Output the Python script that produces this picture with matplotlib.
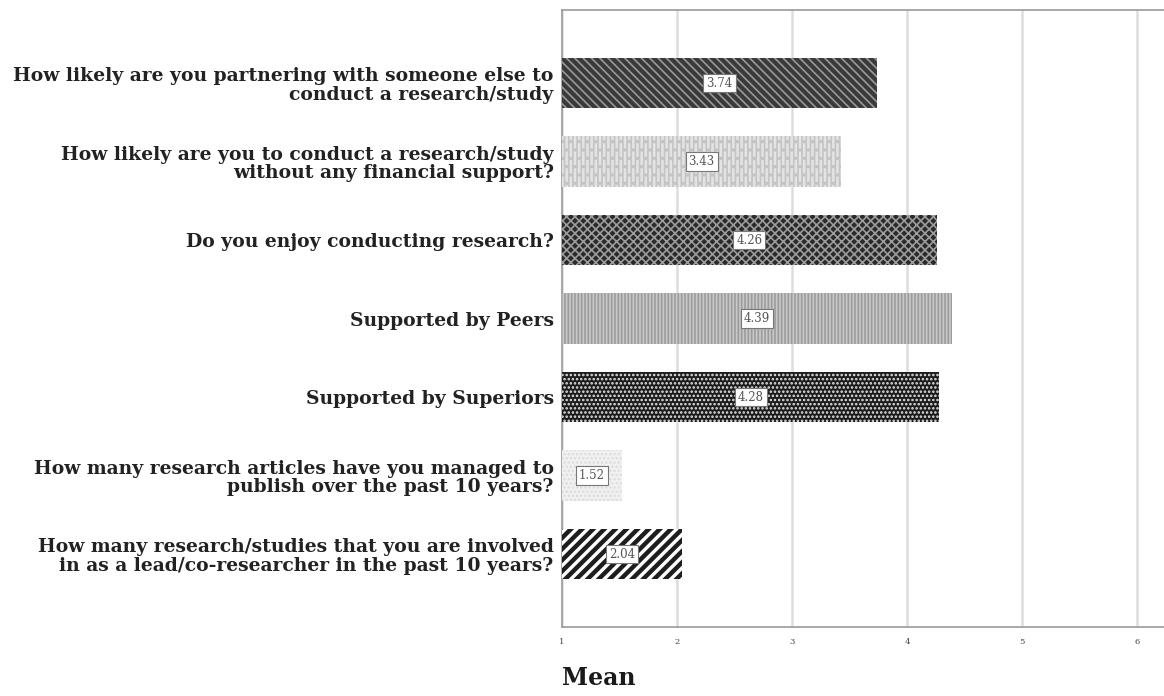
import matplotlib
matplotlib.use("Agg")
import matplotlib.pyplot as plt

# survey items (top to bottom) and their mean scores
questions = [
    "How likely are you partnering with someone else to\nconduct a research/study",
    "How likely are you to conduct a research/study\nwithout any financial support?",
    "Do you enjoy conducting research?",
    "Supported by Peers",
    "Supported by Superiors",
    "How many research articles have you managed to\npublish over the past 10 years?",
    "How many research/studies that you are involved\nin as a lead/co-researcher in the past 10 years?",
]
means = [3.74, 3.43, 4.26, 4.39, 4.28, 1.52, 2.04]
mean_labels = ["3.74", "3.43", "4.26", "4.39", "4.28", "1.52", "2.04"]
x_ticks = [1, 2, 3, 4, 5, 6]

# fill patterns, one per bar
faces = ["#3a3a3a", "#e4e4e4", "#2a2a2a", "#c8c8c8", "#1c1c1c", "#f1f1f1", "#ffffff"]
hatch_cols = ["#9a9a9a", "#c4c4c4", "#9c9c9c", "#9c9c9c", "#e6e6e6", "#dcdcdc", "#1e1e1e"]
hatches = ["\\\\\\\\", "||||..", "xxxx", "|||||", "....", "....", "///"]
hatch_lw = [1.2, 1.2, 1.2, 1.2, 1.2, 1.2, 3.2]

plt.rcParams["font.family"] = "DejaVu Serif"
plt.rcParams["hatch.linewidth"] = 1.2

fig = plt.figure(figsize=(11.64, 6.96), dpi=100)
ax = fig.add_axes([0.4828, 0.0991, 0.5434, 0.8865])

base = x_ticks[0]
ypos = list(range(len(questions)))
for i in ypos:
    bars = ax.barh(i, means[i] - base, left=base, height=0.64, color=faces[i],
                   edgecolor=hatch_cols[i], hatch=hatches[i], linewidth=0, zorder=3)
    for b in bars:
        if hasattr(b, "set_hatch_linewidth"):
            b.set_hatch_linewidth(hatch_lw[i])
    ax.text(base + (means[i] - base) / 2, i, mean_labels[i], ha="center", va="center",
            fontsize=8.5, color="#555555", zorder=4,
            bbox=dict(boxstyle="square,pad=0.25", facecolor="white",
                      edgecolor="#777777", linewidth=0.8))

ax.set_xlim(1, 6.5)
ax.set_ylim(6.93, -0.93)
ax.set_yticks(ypos)
ax.set_yticklabels(questions, fontsize=13.5, fontweight="bold", color="#222222",
                   linespacing=1.06)
ax.set_xticks(x_ticks)
ax.set_xticklabels([str(t) for t in x_ticks], fontsize=6, color="#444444")
ax.tick_params(axis="y", length=0, pad=6)
ax.tick_params(axis="x", length=0, pad=8)

ax.grid(axis="x", color="#dddddd", linewidth=1.8, zorder=0)
for side in ["left", "bottom", "top", "right"]:
    ax.spines[side].set_color("#9a9a9a")
    ax.spines[side].set_linewidth(1.2)

ax.set_xlabel("Mean", loc="left", fontsize=17, fontweight="bold", color="#1a1a1a",
              labelpad=14)

fig.savefig("out.png", dpi=100)
